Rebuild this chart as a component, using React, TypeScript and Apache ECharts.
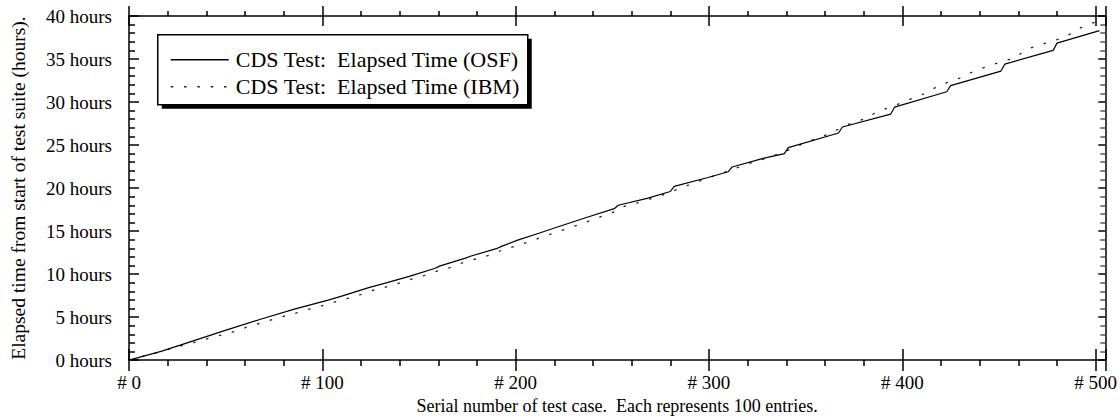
import React, { useEffect, useRef } from "react";
import * as echarts from "echarts";

const osfName = "CDS Test:  Elapsed Time (OSF)";
const ibmName = "CDS Test:  Elapsed Time (IBM)";

const xTicks = [0, 100, 200, 300, 400, 500];
const yTicks = [0, 5, 10, 15, 20, 25, 30, 35, 40];

// [serial number of test case, elapsed hours]
const osfData: [number, number][] = [
  [0, 0], [17, 1.05], [34, 2.3], [51, 3.55], [68, 4.75], [86, 5.95], [103, 6.98],
  [110, 7.43], [124, 8.43], [133, 8.97], [145, 9.73], [158, 10.65], [161, 10.95],
  [174, 11.85], [177, 12.1], [190, 12.95], [193, 13.25], [201, 13.94], [212, 14.75],
  [222, 15.5], [237, 16.6], [251, 17.6], [253, 18.0], [268, 18.8], [280, 19.6],
  [282, 20.2], [299, 21.2], [310, 21.9], [312, 22.45], [328, 23.45], [339, 24.0],
  [341, 24.7], [367, 26.4], [369, 27.1], [394, 28.6], [396, 29.4], [423, 31.2],
  [425, 31.9], [451, 33.6], [453, 34.4], [478, 36.0], [480, 36.85], [502, 38.3],
];

const ibmData: [number, number][] = [
  [0, 0], [14, 0.85], [28, 1.72], [36, 2.18], [43, 2.64], [50, 3.03], [57, 3.5],
  [63, 4.0], [70, 4.4], [77, 4.94], [84, 5.3], [91, 5.8], [98, 6.2], [112, 7.1],
  [119, 7.55], [126, 8.1], [133, 8.5], [139, 8.9], [146, 9.4], [153, 9.85],
  [160, 10.4], [167, 10.8], [174, 11.45], [181, 11.84], [188, 12.3], [194, 12.9],
  [201, 13.3], [215, 14.4], [228, 15.4], [235, 15.9], [242, 16.55], [249, 17.0],
  [255, 17.8], [262, 18.2], [269, 18.7], [275, 19.1], [282, 19.7], [289, 20.3],
  [296, 20.9], [310, 22.0], [320, 22.8], [330, 23.5], [340, 24.3], [350, 25.3],
  [362, 26.3], [375, 27.7], [381, 28.05], [387, 28.9], [394, 29.4], [406, 30.5],
  [413, 31.1], [419, 31.95], [426, 32.45], [432, 33.0], [438, 33.7], [445, 34.2],
  [452, 34.75], [458, 35.1], [464, 36.1], [470, 36.55], [477, 37.05], [484, 37.5],
  [490, 38.4], [496, 39.0], [500, 39.3],
];

const FONT = "Liberation Serif";
const X_MAX = 505;
const DOT_DASH = [2.5, 10.8];

export default function App() {
  const ref = useRef<HTMLDivElement>(null);
  useEffect(() => {
    if (!ref.current) return;
    const chart = echarts.init(ref.current, undefined, { renderer: "svg" });
    const axisLine = { show: true, onZero: false, lineStyle: { color: "#000", width: 1.5 } };
    const tickStyle = { color: "#000", width: 1.5 };
    const xBase = {
      type: "value" as const,
      min: 0,
      max: X_MAX,
      interval: 100,
      splitLine: { show: false },
    };
    const yBase = {
      type: "value" as const,
      min: 0,
      max: 40,
      interval: 5,
      splitLine: { show: false },
    };
    chart.setOption({
      animation: false,
      backgroundColor: "#fff",
      textStyle: { fontFamily: FONT, color: "#000" },
      grid: { left: 128, right: 9, top: 16, bottom: 56, containLabel: false },
      xAxis: [
        {
          ...xBase,
          position: "bottom",
          axisLine,
          axisTick: { show: true, inside: false, length: 11, lineStyle: tickStyle },
          minorTick: { show: true, splitNumber: 5, length: 6, lineStyle: tickStyle },
          axisLabel: {
            show: true,
            margin: 13,
            fontFamily: FONT,
            fontSize: 19,
            color: "#000",
            showMaxLabel: false,
            formatter: (v: number) => (xTicks.includes(v) ? "# " + v : ""),
          },
          name: "Serial number of test case.  Each represents 100 entries.",
          nameLocation: "middle",
          nameGap: 31,
          nameTextStyle: { fontFamily: FONT, fontSize: 18, color: "#000" },
        },
        {
          ...xBase,
          position: "bottom",
          axisLine: { show: false, onZero: false },
          axisTick: { show: true, inside: true, length: 11, lineStyle: tickStyle },
          axisLabel: { show: false },
        },
        {
          ...xBase,
          position: "top",
          axisLine,
          axisTick: { show: true, inside: false, length: 10, lineStyle: tickStyle },
          minorTick: { show: true, splitNumber: 5, length: 5, lineStyle: tickStyle },
          axisLabel: { show: false },
        },
        {
          ...xBase,
          position: "top",
          axisLine: { show: false, onZero: false },
          axisTick: { show: true, inside: true, length: 10, lineStyle: tickStyle },
          axisLabel: { show: false },
        },
      ],
      yAxis: [
        {
          ...yBase,
          position: "left",
          axisLine,
          axisTick: { show: true, inside: true, length: 10, lineStyle: tickStyle },
          minorTick: { show: true, splitNumber: 5, length: 6, lineStyle: tickStyle },
          axisLabel: {
            show: true,
            margin: 17,
            fontFamily: FONT,
            fontSize: 19,
            color: "#000",
            formatter: (v: number) => (yTicks.includes(v) ? v + " hours" : ""),
          },
          name: "Elapsed time from start of test suite (hours).",
          nameLocation: "middle",
          nameGap: 101,
          nameTextStyle: { fontFamily: FONT, fontSize: 19.5, color: "#000" },
        },
        {
          ...yBase,
          position: "right",
          axisLine,
          axisTick: { show: true, inside: true, length: 7, lineStyle: tickStyle },
          minorTick: { show: true, splitNumber: 5, length: 5, lineStyle: { color: "#555", width: 1.5 } },
          axisLabel: { show: false },
        },
      ],
      graphic: [
        {
          type: "group",
          left: 157,
          top: 34,
          z: 10,
          children: [
            { type: "rect", shape: { x: 4, y: 4, width: 370, height: 70 }, style: { fill: "#000" } },
            {
              type: "rect",
              shape: { x: 0, y: 0, width: 370, height: 70 },
              style: { fill: "#fff", stroke: "#000", lineWidth: 1.5 },
            },
            {
              type: "line",
              shape: { x1: 13, y1: 25, x2: 71, y2: 25 },
              style: { stroke: "#000", lineWidth: 1.3 },
            },
            {
              type: "line",
              shape: { x1: 13, y1: 52, x2: 71, y2: 52 },
              style: { stroke: "#222", lineWidth: 1.3, lineDash: DOT_DASH },
            },
            {
              type: "text",
              x: 78,
              y: 25,
              style: {
                text: osfName,
                fontFamily: FONT,
                fontSize: 22,
                fill: "#000",
                verticalAlign: "middle",
                align: "left",
              },
            },
            {
              type: "text",
              x: 78,
              y: 52,
              style: {
                text: ibmName,
                fontFamily: FONT,
                fontSize: 22,
                fill: "#000",
                verticalAlign: "middle",
                align: "left",
              },
            },
          ],
        },
      ],
      series: [
        {
          name: osfName,
          type: "line",
          xAxisIndex: 0,
          yAxisIndex: 0,
          data: osfData,
          symbol: "none",
          lineStyle: { color: "#000", width: 1.2, type: "solid" },
          z: 3,
        },
        {
          name: ibmName,
          type: "line",
          xAxisIndex: 0,
          yAxisIndex: 0,
          data: ibmData,
          symbol: "none",
          lineStyle: { color: "#222", width: 1.3, type: DOT_DASH },
          z: 2,
        },
      ],
    });
    return () => chart.dispose();
  }, []);
  return (
    <div
      ref={ref}
      style={{ width: 1120, height: 420, position: "absolute", left: 0, top: 0 }}
    />
  );
}
